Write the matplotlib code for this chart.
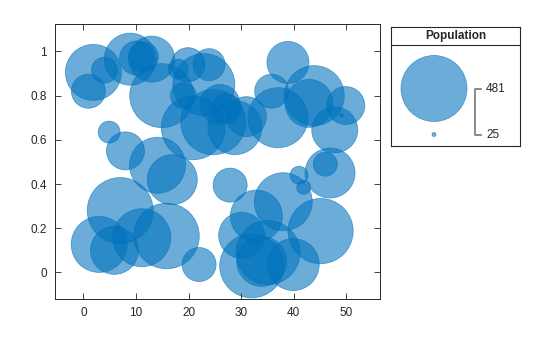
import numpy as np
import matplotlib
matplotlib.use("Agg")
from matplotlib import pyplot as plt

plt.rcParams["font.family"] = ["Liberation Sans", "DejaVu Sans"]

# bubble data
x = [1.9, 0.95, 4.0, 8.9, 10.1, 13.0, 11.4, 14.9, 19.9, 18.0, 23.9, 22.9, 19.0,
     20.9, 24.7, 26.0, 27.2, 28.8, 31.0, 38.9, 35.8, 37.0, 43.9, 42.9, 49.9,
     47.8, 49.1, 4.9, 8.0, 14.1, 16.9, 27.9, 41.0, 41.9, 46.9, 46.0, 7.0, 3.0,
     5.9, 11.1, 15.8, 22.0, 32.9, 38.0, 30.1, 35.1, 32.0, 33.9, 39.9, 45.1]
y = [0.905, 0.82, 0.915, 0.965, 0.97, 0.965, 0.975, 0.80, 0.94, 0.92, 0.94,
     0.85, 0.80, 0.655, 0.68, 0.76, 0.74, 0.655, 0.705, 0.95, 0.82, 0.70, 0.80,
     0.765, 0.755, 0.645, 0.71, 0.635, 0.55, 0.485, 0.42, 0.395, 0.44, 0.385,
     0.45, 0.49, 0.28, 0.127, 0.10, 0.157, 0.165, 0.036, 0.255, 0.32, 0.168,
     0.09, 0.03, 0.05, 0.036, 0.187]
population = [353, 145, 94, 307, 145, 246, 118, 454, 145, 65, 131, 427, 94,
              454, 470, 191, 118, 330, 191, 209, 145, 402, 402, 265, 175,
              246, 25, 74, 175, 353, 286, 145, 57, 44, 286, 84, 481, 353,
              265, 377, 475, 145, 307, 377, 246, 454, 454, 286, 307, 470]

DPI = 100
BLUE = "#0072BD"
R_MIN, R_MAX = 2.0, 33.0  # bubble radius range in pixels


def bubble_size(v, lo=min(population), hi=max(population)):
    v = np.asarray(v, dtype=float)
    r = np.sqrt(R_MIN**2 + (v - lo) / (hi - lo) * (R_MAX**2 - R_MIN**2))
    return (2 * r * 72 / DPI) ** 2


fig = plt.figure(figsize=(5.6, 3.37), dpi=DPI)
ax = fig.add_axes([55 / 560, 38 / 337, 325 / 560, 275 / 337])
ax.scatter(x, y, s=bubble_size(population), c=BLUE, alpha=0.58,
           edgecolors=BLUE, linewidths=0.6)
ax.set_xlim(-5.4, 56.4)
ax.set_ylim(-0.12, 1.124)
ax.set_xticks(range(0, 51, 10))
ax.set_yticks(np.arange(0, 1.01, 0.2))
ax.set_yticklabels(["0", "0.2", "0.4", "0.6", "0.8", "1"])
ax.tick_params(direction="in", top=True, right=True, length=4, width=0.6,
               labelsize=8.5, colors="#262626", pad=6)
for sp in ax.spines.values():
    sp.set_linewidth(0.7)
    sp.set_color("#262626")

# bubble legend
lg = fig.add_axes([391 / 560, 191 / 337, 129 / 560, 119 / 337])
lg.set_xlim(0, 129)
lg.set_ylim(119, 0)
lg.set_xticks([])
lg.set_yticks([])
for sp in lg.spines.values():
    sp.set_linewidth(0.8)
    sp.set_color("#262626")
lg.text(64.5, 9, "Population", ha="center", va="center", fontsize=8.5,
        fontweight="bold", color="#262626")
lg.plot([0, 129], [17.5, 17.5], color="#262626", lw=0.8)
vmin, vmax = min(population), max(population)
lg.scatter([43, 43], [61.5, 107.5], s=bubble_size([vmax, vmin]), c=BLUE,
           alpha=0.58, edgecolors=BLUE, linewidths=0.6)
lg.plot([90, 84, 84, 90], [61.5, 61.5, 107.5, 107.5], color="#808080", lw=1.3)
lg.text(95, 61.5, str(vmax), va="center", fontsize=8.5, color="#262626")
lg.text(95, 107.5, str(vmin), va="center", fontsize=8.5, color="#262626")

fig.savefig("out.png", dpi=DPI)
